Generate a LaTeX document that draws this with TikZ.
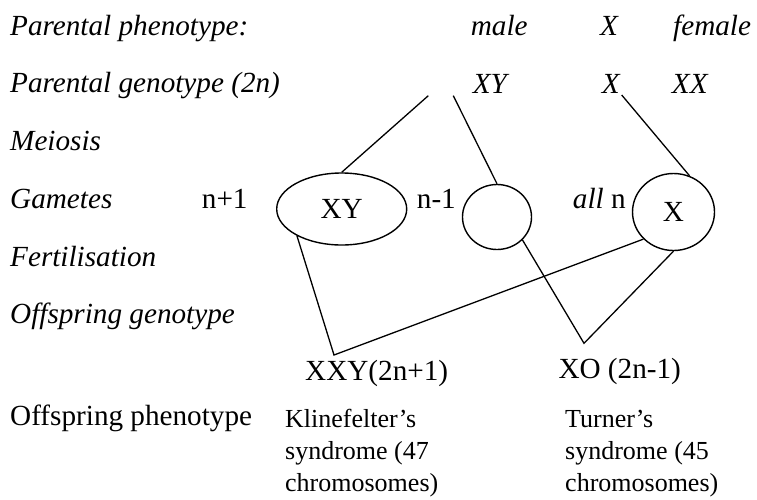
\documentclass[tikz,border=0pt]{standalone}
\usepackage{fontspec}
\setmainfont{Liberation Serif}
\usetikzlibrary{shapes.geometric}
\begin{document}
\begin{tikzpicture}[x=1pt,y=-1pt,
  txt/.style={inner sep=0pt, anchor=base west, font=\fontsize{29.2}{34}\selectfont},
  itx/.style={inner sep=0pt, anchor=base west, font=\fontsize{29.2}{34}\selectfont\itshape},
  small/.style={inner sep=0pt, anchor=base west, align=left, font=\fontsize{26}{32}\selectfont},
  gam/.style={draw, ellipse, inner sep=0pt, line width=1.4pt, font=\fontsize{29.2}{34}\selectfont},
  conn/.style={line width=1.3pt}]
\useasboundingbox (0,0) rectangle (757,499);

% left column
\node[itx] (l1) at (10,35) {Parental phenotype:};
\node[itx] (l2) at (10,92) {Parental genotype (2n)};
\node[itx] (l3) at (10,150) {Meiosis};
\node[itx] (l4) at (10,208) {Gametes};
\node[itx] (l5) at (10,266) {Fertilisation};
\node[itx] (l6) at (10,323) {Offspring genotype};
\node[txt] (l7) at (10,425) {Offspring phenotype};

% parents
\node[itx] (male) at (470.7,35) {male};
\node[itx] (cross1) at (600,35) {X};
\node[itx] (female) at (673,35) {female};
\node[itx] (gxy) at (472.7,93) {XY};
\node[itx] (cross2) at (601.7,93) {X};
\node[itx] (gxx) at (671.7,93) {XX};

% gamete labels
\node[txt] (np1) at (201.7,208) {n+1};
\node[txt] (nm1) at (416.7,208) {n-1};
\node[txt] (alln) at (572.7,208) {\textit{all} n};

% gametes
\node[gam, minimum width=130pt, minimum height=72pt] (gXY) at (341.7,209) {XY};
\node[gam, minimum width=69pt, minimum height=65pt] (gO) at (497,217) {};
\node[gam, minimum width=82pt, minimum height=77pt] (gX) at (673.5,212) {X};

% offspring
\node[txt] (xxy) at (305,380) {XXY(2n+1)};
\node[txt] (xo) at (558.3,378) {XO (2n-1)};
\node[small] (kl) at (285,491) {Klinefelter’s\\syndrome (47\\chromosomes)};
\node[small] (tu) at (565,491) {Turner’s\\syndrome (45\\chromosomes)};

% connector points
\coordinate (m1) at (428.3,95.7);
\coordinate (m2) at (453.3,95.7);
\coordinate (f1) at (621.7,95);
\coordinate (a1) at (334,355);
\coordinate (a2) at (584,343.3);

\draw[conn] (m1) -- (gXY.north);
\draw[conn] (m2) -- (gO.north);
\draw[conn] (f1) -- (gX.66);
\draw[conn] (gXY.211) -- (a1) -- (gX.222);
\draw[conn] (gO.318) -- (a2) -- (gX.south);
\end{tikzpicture}
\end{document}
